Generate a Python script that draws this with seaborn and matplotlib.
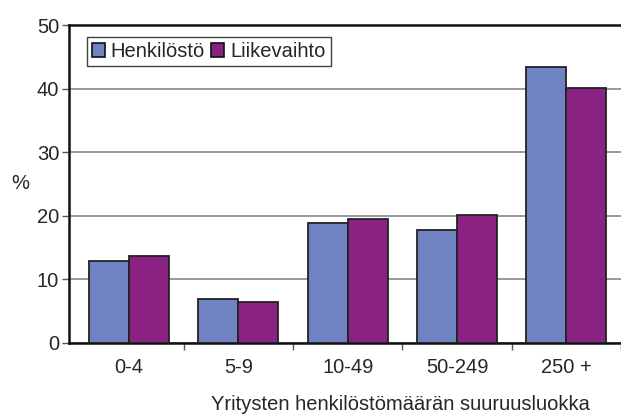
import pandas as pd
import seaborn as sns
import matplotlib.pyplot as plt
from matplotlib.ticker import FixedLocator

# Data
categories = ["0-4", "5-9", "10-49", "50-249", "250 +"]
henkilosto = [12.9, 6.9, 18.8, 17.7, 43.4]
liikevaihto = [13.7, 6.4, 19.5, 20.2, 40.1]
series_names = ["Henkilöstö", "Liikevaihto"]
colors = ["#6F82C2", "#8A2284"]

df = pd.DataFrame({
    "luokka": categories * 2,
    "arvo": henkilosto + liikevaihto,
    "sarja": [series_names[0]] * 5 + [series_names[1]] * 5,
})

sns.set_style("white")
plt.rcParams["font.family"] = ["Liberation Sans", "DejaVu Sans"]
FS = 14.5

fig = plt.figure(figsize=(6.21, 4.17), dpi=100)
ax = fig.add_axes([0.111, 0.1775, 0.889, 0.7625])

sns.barplot(data=df, x="luokka", y="arvo", hue="sarja", palette=colors,
            width=0.73, gap=0, edgecolor="#222222", linewidth=1.3,
            saturation=1, ax=ax, zorder=3)

ax.set_ylim(0, 50)
ax.set_xlim(-0.55, len(categories) - 0.5)
ax.set_yticks([0, 10, 20, 30, 40, 50])
ax.yaxis.grid(True, color="#888888", linewidth=1.2, zorder=0)
ax.set_axisbelow(True)

for side in ["left", "bottom", "top"]:
    ax.spines[side].set_visible(True)
    ax.spines[side].set_color("#111111")
    ax.spines[side].set_linewidth(1.8)
ax.spines["right"].set_visible(False)

ax.tick_params(axis="y", which="major", direction="out", length=5, width=1,
               color="#555555", labelsize=FS, pad=2, left=True)
ax.tick_params(axis="x", which="major", length=0, labelsize=FS, pad=11)
ax.xaxis.set_minor_locator(FixedLocator([i - 0.5 for i in range(1, len(categories) + 1)]))
ax.tick_params(axis="x", which="minor", direction="out", length=5, width=1,
               color="#555555", bottom=True)

ax.set_xlabel("")
ax.set_ylabel("")
fig.text(0.018, 0.56, "%", fontsize=FS, ha="left", va="center")
fig.text(0.645, 0.008, "Yritysten henkilöstömäärän suuruusluokka",
         fontsize=FS, ha="center", va="bottom")

leg = ax.legend(loc="upper left", bbox_to_anchor=(0.032, 0.962), ncol=2,
                frameon=True, fancybox=False, fontsize=FS,
                handlelength=0.65, handleheight=0.65, handletextpad=0.3,
                columnspacing=0.3, borderpad=0.25, borderaxespad=0)
leg.get_frame().set_edgecolor("#111111")
leg.get_frame().set_linewidth(1.0)
for h in leg.legend_handles:
    h.set_edgecolor("#111111")
    h.set_linewidth(1.2)

fig.savefig("out.png", dpi=100)
